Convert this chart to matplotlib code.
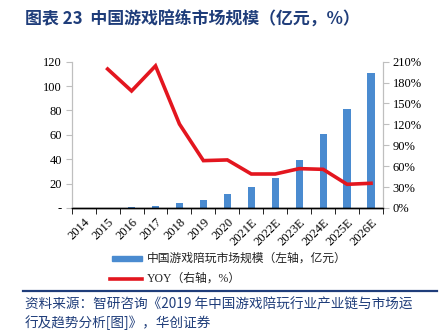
import matplotlib
matplotlib.use("Agg")
import matplotlib.pyplot as plt
from matplotlib.lines import Line2D
from matplotlib.patches import Rectangle
import numpy as np

years = ["2014", "2015", "2016", "2017", "2018", "2019", "2020",
         "2021E", "2022E", "2023E", "2024E", "2025E", "2026E"]
market = [0.07, 0.22, 0.6, 1.8, 3.9, 6.7, 11.3, 17.0, 25.0, 39.1, 60.5, 81.2, 110.5]
yoy = [np.nan, 199.5, 168, 204, 120.5, 68, 69, 48.8, 48.8, 56.5, 55.5, 34, 35.5]
left_ticks = [0, 20, 40, 60, 80, 100, 120]
left_labels = ["-", "20", "40", "60", "80", "100", "120"]
right_ticks = [0, 30, 60, 90, 120, 150, 180, 210]

cjk = ["Noto Sans CJK SC", "DejaVu Sans"]
serif = ["Liberation Serif", "Noto Sans CJK SC"]
navy = "#1F3D7A"
blue = "#4A8BD0"
red = "#E3161F"
gray = "#BFBFBF"

W, H = 443, 330
fig = plt.figure(figsize=(W / 100, H / 100), dpi=100)
ax = fig.add_axes([71.7 / W, 1 - 208 / H, (383 - 71.7) / W, (208 - 61.7) / H])
ax2 = ax.twinx()

x = np.arange(len(years))
ax.bar(x, market, width=0.3, color=blue, zorder=2)
ax.set_xlim(-0.5, len(years) - 0.5)
ax.set_ylim(0, 120)
ax.set_yticks(left_ticks)
ax.set_yticklabels(left_labels, family=serif, fontsize=9)

ax2.plot(x, yoy, color=red, lw=2.6, zorder=3, solid_joinstyle="miter")
ax2.set_ylim(0, 210)
ax2.set_yticks(right_ticks)
ax2.set_yticklabels([f"{v}%" for v in right_ticks], family=serif, fontsize=9)

ax.set_xticks(x)
ax.set_xticklabels(years, family=serif, fontsize=9, rotation=45,
                   ha="right", va="top", rotation_mode="anchor")
ax.tick_params(axis="x", which="major", length=0, pad=6)
ax.set_xticks(np.arange(-0.5, len(years), 1), minor=True)
ax.tick_params(axis="x", which="minor", length=4, color="black", direction="out")

for a in (ax, ax2):
    a.spines["top"].set_visible(False)
    a.spines["left"].set_color(gray)
    a.spines["right"].set_color(gray)
    a.spines["bottom"].set_color("black")
    a.spines["bottom"].set_linewidth(1.0)
ax.tick_params(axis="y", length=4, color=gray, pad=3)
ax2.tick_params(axis="y", length=4, color=gray, pad=3)

# Title
fig.text(25 / W, 1 - 20 / H, "图表 23  中国游戏陪练市场规模（亿元，%）",
         family=cjk, fontsize=12.2, fontweight="bold", color=navy,
         ha="left", va="center")

# Legend
fig.add_artist(Rectangle((112 / W, 1 - 261 / H), 30 / W, 5 / H,
                         transform=fig.transFigure, color=blue))
fig.text(147 / W, 1 - 258.5 / H, "中国游戏陪玩市场规模（左轴，亿元）",
         family=cjk, fontsize=8.5, color="#222222", ha="left", va="center")
fig.add_artist(Line2D([110 / W, 142 / W], [1 - 278.5 / H, 1 - 278.5 / H],
                      transform=fig.transFigure, color=red, lw=2.6))
fig.text(147 / W, 1 - 278.5 / H, "YOY（右轴，%）",
         family=["Liberation Serif", "Noto Sans CJK SC"], fontsize=8.5,
         color="#222222", ha="left", va="center")

# Separator
fig.add_artist(Line2D([23 / W, 437 / W], [1 - 291 / H, 1 - 291 / H],
                      transform=fig.transFigure, color=navy, lw=1.6))

# Source
fig.text(25 / W, 1 - 305 / H,
         "资料来源：智研咨询《2019 年中国游戏陪玩行业产业链与市场运",
         family=cjk, fontsize=9.8, color=navy, style="italic",
         ha="left", va="center")
fig.text(25 / W, 1 - 323 / H, "行及趋势分析[图]》，华创证券",
         family=cjk, fontsize=9.8, color=navy, style="italic",
         ha="left", va="center")

fig.savefig("out.png", dpi=100)
